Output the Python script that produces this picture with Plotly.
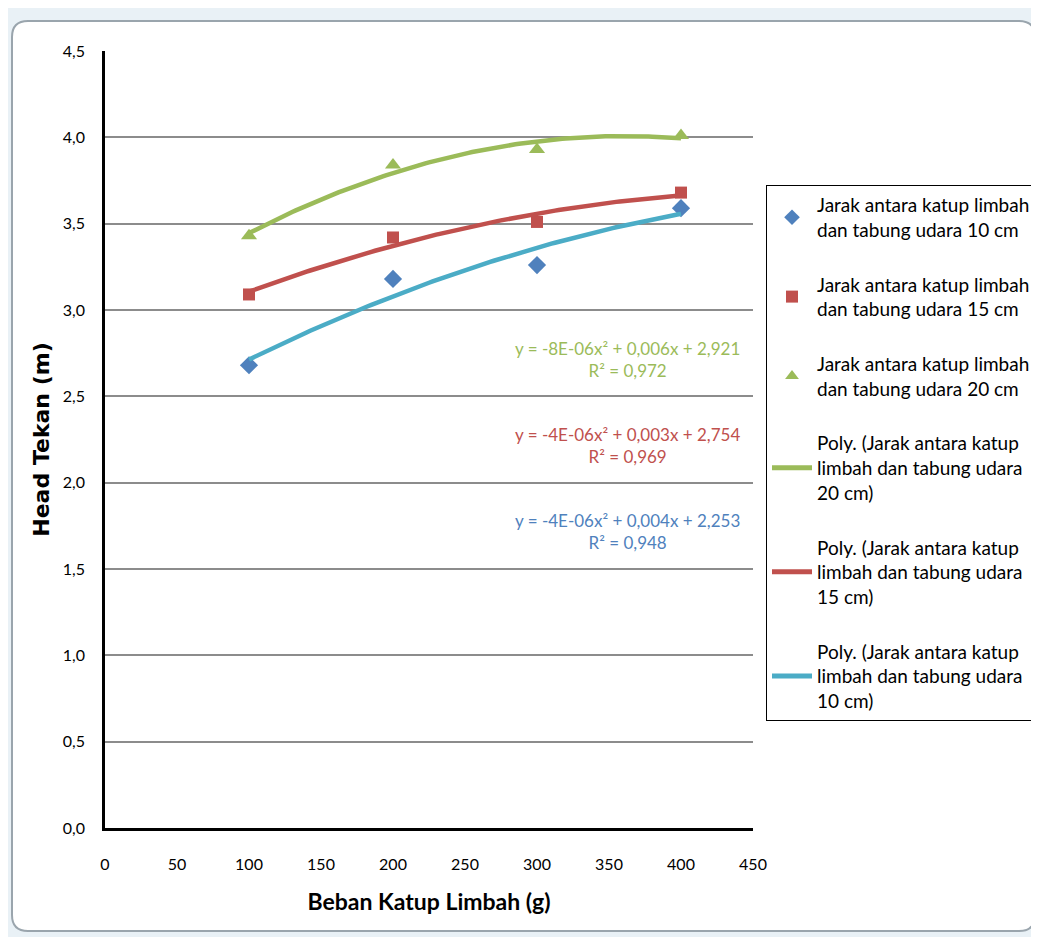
import numpy as np
import plotly.graph_objects as go

# ---- data ----
beban = [100, 200, 300, 400]
head_10cm = [2.68, 3.18, 3.26, 3.59]
head_15cm = [3.09, 3.42, 3.51, 3.68]
head_20cm = [3.43, 3.84, 3.93, 4.01]

name_pts = [
    "Jarak antara katup limbah<br>dan tabung udara 10 cm",
    "Jarak antara katup limbah<br>dan tabung udara 15 cm",
    "Jarak antara katup limbah<br>dan tabung udara 20 cm",
]
name_poly = [
    "Poly. (Jarak antara katup<br>limbah dan tabung udara<br>20 cm)",
    "Poly. (Jarak antara katup<br>limbah dan tabung udara<br>15 cm)",
    "Poly. (Jarak antara katup<br>limbah dan tabung udara<br>10 cm)",
]
eq_texts = [
    "y = -8E-06x² + 0,006x + 2,921<br>R² = 0,972",
    "y = -4E-06x² + 0,003x + 2,754<br>R² = 0,969",
    "y = -4E-06x² + 0,004x + 2,253<br>R² = 0,948",
]

# ---- styling ----
OFF = 8                      # page body margin
W, H = 1039 - OFF, 937 - OFF
L, T = 105 - OFF, 51 - OFF
R = W - (753 - OFF)
B = H - (828 - OFF)
PW, PH = W - L - R, H - T - B
BLUE, RED, GREEN, TEAL = "#4F81BD", "#C0504D", "#9BBB59", "#4BACC6"
FONT = "Lato"


def px(xr):
    return (xr - OFF - L) / PW


def py(yr):
    return (H - B - (yr - OFF)) / PH


fig = go.Figure()

series = [
    (head_10cm, BLUE, "diamond", 14),
    (head_15cm, RED, "square", 12),
    (head_20cm, GREEN, "triangle-up", 14),
]
for i, (vals, col, sym, sz) in enumerate(series):
    fig.add_trace(go.Scatter(
        x=beban, y=vals, mode="markers", name=name_pts[i],
        marker=dict(symbol=sym, size=sz, color=col),
        legendgroup=f"g{i}",
    ))

# polynomial trend lines (order 2 least-squares fit of the data)
xs = np.linspace(min(beban), max(beban), 121)
trend = [(head_20cm, GREEN), (head_15cm, RED), (head_10cm, TEAL)]
for j, (vals, col) in enumerate(trend):
    c = np.polyfit(beban, vals, 2)
    fig.add_trace(go.Scatter(
        x=xs, y=np.polyval(c, xs), mode="lines", name=name_poly[j],
        line=dict(color=col, width=4.5),
        legendgroup=f"p{j}",
    ))

# equation labels
eq_pos = [(363, 2.715, GREEN), (363, 2.215, RED), (363, 1.72, BLUE)]
for t, (xv, yv, col) in zip(eq_texts, eq_pos):
    fig.add_annotation(
        x=xv, y=yv, xref="x", yref="y", text=t, showarrow=False,
        font=dict(family=FONT, size=17, color=col),
        align="center",
    )

# chart frame (Excel style rounded border)
x0, x1, y0, y1 = px(12), px(1035), py(21), py(931)
r, ry = 16 / PW, 16 / PH
path = (f"M {x0+r},{y0} L {x1-r},{y0} Q {x1},{y0} {x1},{y0-ry} "
        f"L {x1},{y1+ry} Q {x1},{y1} {x1-r},{y1} L {x0+r},{y1} "
        f"Q {x0},{y1} {x0},{y1+ry} L {x0},{y0-ry} Q {x0},{y0} {x0+r},{y0} Z")
fig.add_shape(type="path", path=path, xref="paper", yref="paper",
              fillcolor="white", line=dict(color="#9aa5ad", width=2), layer="below")

fig.update_layout(
    width=W, height=H,
    margin=dict(l=L, r=R, t=T, b=B, autoexpand=False),
    paper_bgcolor="#e9f1f6", plot_bgcolor="rgba(0,0,0,0)",
    separators=",.",
    font=dict(family=FONT, size=16, color="#000000"),
    showlegend=True,
    legend=dict(
        x=px(766), y=py(185), xanchor="left", yanchor="top",
        bgcolor="white", bordercolor="#000000", borderwidth=1,
        font=dict(family=FONT, size=19, color="#000000"),
        tracegroupgap=27, itemsizing="constant", traceorder="grouped",
        itemwidth=40,
    ),
    xaxis=dict(
        range=[0, 450], dtick=50, tick0=0, showgrid=False, zeroline=False,
        showline=True, linecolor="#000000", linewidth=2.5,
        ticks="", ticklabelstandoff=20, tickfont=dict(family=FONT, size=16),
        title=dict(text="<b>Beban Katup Limbah (g)</b>", standoff=22,
                   font=dict(family=FONT, size=23)),
    ),
    yaxis=dict(
        range=[0, 4.5], dtick=0.5, tick0=0, tickformat=".1f",
        showgrid=True, gridcolor="#8c8c8c", gridwidth=1.5, zeroline=False,
        showline=True, linecolor="#000000", linewidth=2.5,
        ticks="", ticklabelstandoff=14, tickfont=dict(family=FONT, size=16),
        title=dict(text="<b>Head Tekan (m)</b>", standoff=8,
                   font=dict(family="DejaVu Sans", size=22)),
    ),
)

fig.write_html("out.html")
